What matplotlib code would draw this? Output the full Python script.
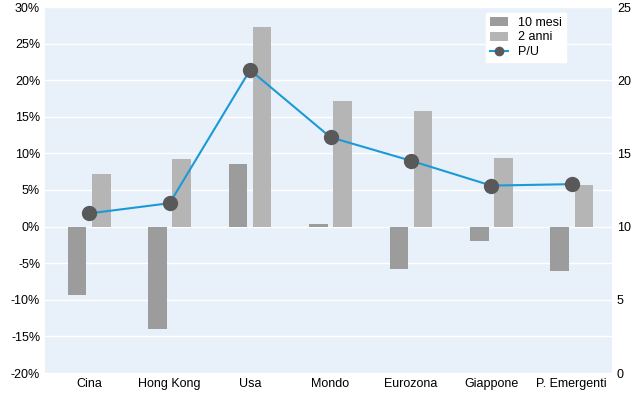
import matplotlib.pyplot as plt
import numpy as np

plt.rcParams['font.family'] = ['Liberation Sans', 'DejaVu Sans']

categories = ['Cina', 'Hong Kong', 'Usa', 'Mondo', 'Eurozona', 'Giappone', 'P. Emergenti']
mesi10 = [-9.3, -14.0, 8.5, 0.3, -5.8, -2.0, -6.1]
anni2 = [7.2, 9.2, 27.3, 17.2, 15.8, 9.4, 5.7]
pu = [10.9, 11.6, 20.7, 16.1, 14.5, 12.8, 12.9]

fig = plt.figure(figsize=(6.44, 4.0), dpi=100)
ax1 = fig.add_axes([45/644, 27/400, 567/644, 366/400])
ax1.set_facecolor('#e8f1fa')
x = np.arange(len(categories))
w = 0.23
ax1.bar(x - 0.15, mesi10, w, color='#9c9c9c', label='10 mesi', zorder=2)
ax1.bar(x + 0.15, anni2, w, color='#b5b5b5', label='2 anni', zorder=2)
ax1.set_ylim(-20, 30)
ax1.set_yticks(range(-20, 31, 5))
ax1.set_yticklabels(['%d%%' % v for v in range(-20, 31, 5)])
ax1.yaxis.grid(True, color='white', linewidth=1, zorder=0)
ax1.set_axisbelow(True)
ax1.set_xlim(-0.55, 6.5)
ax1.set_xticks(x)
ax1.set_xticklabels(categories)
for s in ax1.spines.values():
    s.set_visible(False)
ax1.tick_params(length=0, labelsize=9)

ax2 = ax1.twinx()
ax2.plot(x, pu, color='#1a9ad6', linewidth=1.5, marker='o', markersize=10,
         markerfacecolor='#595959', markeredgecolor='#595959', label='P/U', zorder=3)
ax2.set_ylim(0, 25)
ax2.set_yticks(range(0, 26, 5))
for s in ax2.spines.values():
    s.set_visible(False)
ax2.tick_params(length=0, labelsize=9)

h1, l1 = ax1.get_legend_handles_labels()
h2, l2 = ax2.get_legend_handles_labels()
ax2.legend(h1 + h2, l1 + l2, loc='upper right', bbox_to_anchor=(0.93, 1.0),
           frameon=True, facecolor='white', edgecolor='white', fancybox=False,
           fontsize=9, handlelength=1.5, borderpad=0.3, labelspacing=0.2,
           markerscale=0.6, framealpha=1)

fig.savefig('out.png')
